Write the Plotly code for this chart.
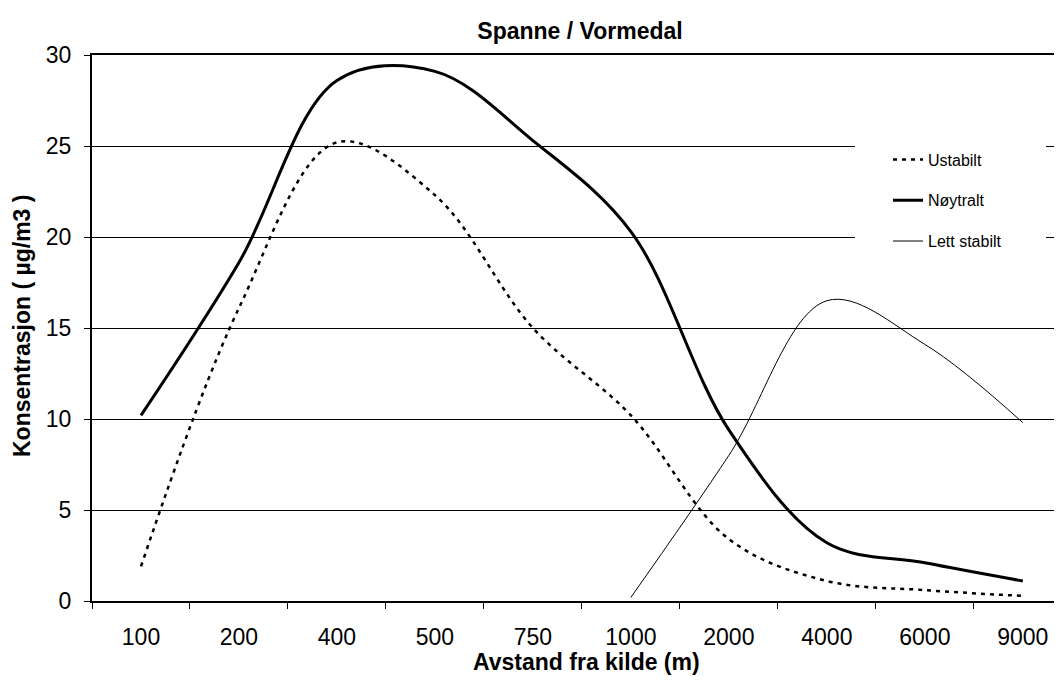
import plotly.graph_objects as go

categories = ["100", "200", "400", "500", "750", "1000", "2000", "4000", "6000", "9000"]
ustabilt = [1.9, 16.1, 25.2, 22.3, 15.0, 10.2, 3.4, 1.1, 0.6, 0.28]
noytralt = [10.2, 18.6, 28.6, 29.1, 25.3, 20.3, 9.4, 3.2, 2.1, 1.1]
lett_stabilt = [None, None, None, None, None, 0.2, 8.0, 16.5, 14.1, 9.8]
y_ticks = [0, 5, 10, 15, 20, 25, 30]

FONT = "Liberation Sans, Arial, sans-serif"
W, H = 1062, 681
OFF = 8  # page body margin offset
# plot area on screen
PX0, PX1, PY0, PY1 = 92, 1062, 55, 601


def cx(sx):  # screen x -> container fraction
    return (sx - OFF) / W


def cy(sy):
    return 1 - (sy - OFF) / H


def px(sx):  # screen x -> paper (plot area) fraction
    return (sx - PX0) / (PX1 - PX0)


def py(sy):
    return (PY1 - sy) / (PY1 - PY0)


fig = go.Figure()
fig.add_trace(go.Scatter(x=categories, y=ustabilt, name="Ustabilt", mode="lines",
                         line=dict(color="black", width=2.5, dash="4px,5px", shape="spline", smoothing=1),
                         legendgroup="a"))
fig.add_trace(go.Scatter(x=categories, y=noytralt, name="Nøytralt", mode="lines",
                         line=dict(color="black", width=3, shape="spline", smoothing=1),
                         legendgroup="b"))
fig.add_trace(go.Scatter(x=categories, y=lett_stabilt, name="Lett stabilt", mode="lines",
                         line=dict(color="black", width=1, shape="spline", smoothing=1),
                         legendgroup="c"))

fig.update_layout(
    width=W, height=H,
    margin=dict(l=84, r=8, t=47, b=88),
    paper_bgcolor="white", plot_bgcolor="white",
    font=dict(family=FONT, color="black", size=23),
    title=dict(text="<b>Spanne / Vormedal</b>", x=cx(580), xanchor="center",
               y=cy(31), yanchor="middle", font=dict(size=23)),
    showlegend=True,
    legend=dict(x=px(888), y=py(142.5), xanchor="left", yanchor="top",
                bgcolor="rgba(0,0,0,0)", borderwidth=0, font=dict(size=16),
                tracegroupgap=17, itemwidth=30),
    shapes=[dict(type="rect", xref="paper", yref="paper",
                 x0=px(855), x1=px(1046), y0=py(262), y1=py(140),
                 fillcolor="white", line=dict(width=0), layer="above")],
    annotations=[
        dict(text="<b>Avstand fra kilde (m)</b>", xref="paper", yref="paper",
             x=px(586), y=py(662), xanchor="center", yanchor="middle",
             showarrow=False, font=dict(size=23)),
        dict(text="<b>Konsentrasjon ( µg/m3 )</b>", xref="paper", yref="paper",
             x=px(22), y=py(326), xanchor="center", yanchor="middle",
             showarrow=False, textangle=-90, font=dict(size=23)),
    ],
)

fig.update_xaxes(
    type="category", range=[-0.5, 9.4], automargin=False,
    showline=True, linecolor="black", linewidth=2, mirror=True,
    ticks="outside", tickson="boundaries", ticklen=6, tickwidth=1, tickcolor="black",
    showgrid=False, tickfont=dict(size=23), ticklabelstandoff=14,
)
fig.update_yaxes(
    range=[0, 30], tickvals=y_ticks, automargin=False,
    showline=True, linecolor="black", linewidth=2,
    ticks="outside", ticklen=6, tickwidth=1, tickcolor="black",
    showgrid=True, gridcolor="black", gridwidth=1, zeroline=False,
    tickfont=dict(size=23), ticklabelstandoff=8,
)

fig.write_html("out.html")
